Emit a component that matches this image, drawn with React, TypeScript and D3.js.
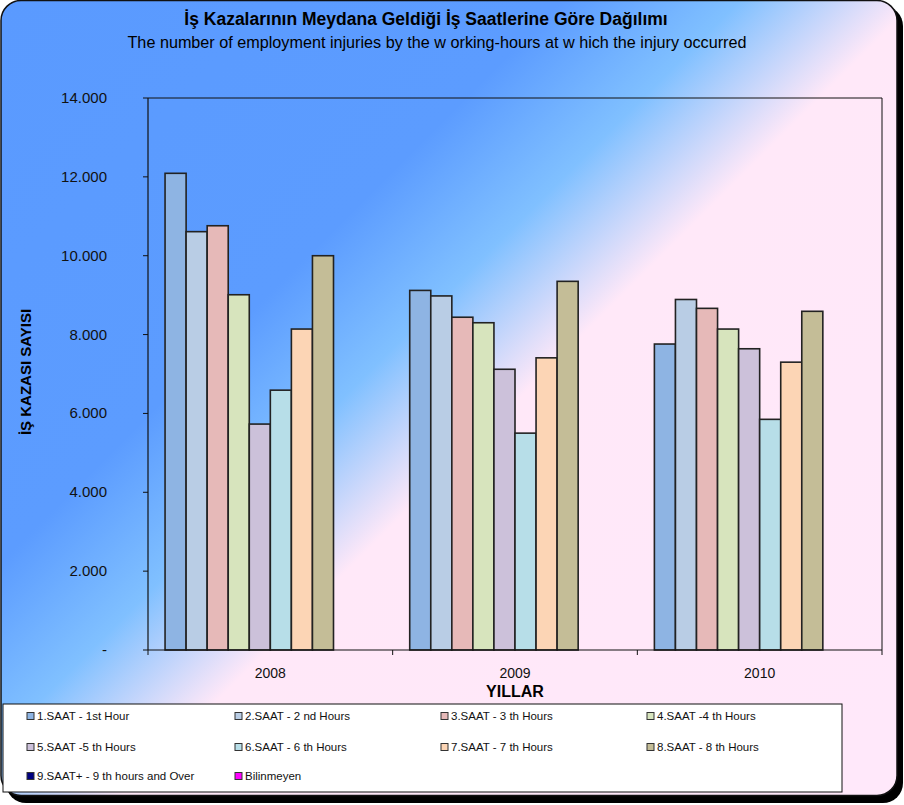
import React from "react";
import * as d3 from "d3";

const years = ["2008", "2009", "2010"];
const seriesNames = [
  "1.SAAT - 1st Hour",
  "2.SAAT - 2 nd Hours",
  "3.SAAT - 3 th Hours",
  "4.SAAT -4 th  Hours",
  "5.SAAT -5 th  Hours",
  "6.SAAT - 6 th  Hours",
  "7.SAAT - 7 th  Hours",
  "8.SAAT - 8 th Hours",
  "9.SAAT+ - 9 th hours and Over",
  "Bilinmeyen",
];
const seriesColors = [
  "#8eb4e3", "#b9cde5", "#e6b9b8", "#d7e4bd", "#ccc1da",
  "#b7dee8", "#fcd5b5", "#c4bd97", "#000080", "#ff00ff",
];
const s1 = [12090, 9120, 7760];
const s2 = [10610, 8980, 8890];
const s3 = [10760, 8440, 8665];
const s4 = [9010, 8300, 8140];
const s5 = [5730, 7120, 7640];
const s6 = [6590, 5500, 5850];
const s7 = [8140, 7410, 7300];
const s8 = [10000, 9350, 8590];
const s9 = [0, 0, 0];
const s10 = [0, 0, 0];
const seriesValues = [s1, s2, s3, s4, s5, s6, s7, s8, s9, s10];
const yTicks = [0, 2000, 4000, 6000, 8000, 10000, 12000, 14000];

const FONT = "'Liberation Sans', Arial, sans-serif";
const NARROW = "'Liberation Sans Narrow', 'Arial Narrow', 'Liberation Sans', sans-serif";

export default function App() {
  const left = 148, right = 882, top = 98, bottom = 650;
  const x0 = d3.scaleBand<string>().domain(years).range([left, right]).padding(0);
  const x1 = d3.scaleBand<string>().domain(seriesNames).range([0, x0.bandwidth()]).paddingInner(0).paddingOuter(0.81);
  const y = d3.scaleLinear().domain([0, 14000]).range([bottom, top]);
  const loc = d3.formatLocale({ decimal: ",", thousands: ".", grouping: [3], currency: ["", ""] });
  const fmt = (v: number) => (v === 0 ? "-" : loc.format(",d")(v));

  const legendCols = [27, 235, 441, 647];
  const legendRows = [716, 747, 776];

  return (
    <svg width={904} height={805} style={{ position: "absolute", left: 0, top: 0 }}>
      <defs>
        <linearGradient id="bg" gradientUnits="userSpaceOnUse" x1={0} y1={0} x2={805} y2={805}>
          <stop offset="0" stopColor="#5a9aff" />
          <stop offset="0.35" stopColor="#5c9cff" />
          <stop offset="0.46" stopColor="#80c0ff" />
          <stop offset="0.57" stopColor="#ffe8f8" />
          <stop offset="1" stopColor="#ffe8fa" />
        </linearGradient>
      </defs>
      <rect x={6} y={6} width={897} height={797} rx={20} fill="#000" />
      <rect x={1} y={0.5} width={896} height={795} rx={20} fill="url(#bg)" stroke="#111" strokeWidth={1.5} />

      <text x={426} y={25} textAnchor="middle" fontFamily={FONT} fontWeight="bold" fontSize={17.5}>
        İş Kazalarının Meydana Geldiği İş Saatlerine Göre Dağılımı
      </text>
      <text x={437} y={48} textAnchor="middle" fontFamily={FONT} fontSize={16.2}>
        The number of employment injuries by the w orking-hours at w hich the injury occurred
      </text>

      {/* plot border */}
      <line x1={left} x2={right} y1={top} y2={top} stroke="#111" strokeWidth={1} />
      <line x1={right} x2={right} y1={top} y2={bottom} stroke="#111" strokeWidth={1} />

      {/* bars */}
      {years.map((yr, yi) => (
        <g key={yr} transform={`translate(${x0(yr)},0)`}>
          {seriesNames.map((s, si) => {
            const v = seriesValues[si][yi];
            if (!v) return null;
            return (
              <rect
                key={s}
                x={x1(s)}
                y={y(v)}
                width={x1.bandwidth()}
                height={bottom - y(v)}
                fill={seriesColors[si]}
                stroke="#222"
                strokeWidth={1.6}
              />
            );
          })}
        </g>
      ))}

      {/* y axis */}
      <line x1={left} x2={left} y1={top} y2={bottom} stroke="#111" strokeWidth={1.2} />
      {yTicks.map((t) => (
        <g key={t}>
          <line x1={left - 5} x2={left} y1={y(t)} y2={y(t)} stroke="#111" />
          <text x={107} y={y(t) + 5} textAnchor="end" fontFamily={FONT} fontSize={15} fill="#111">
            {fmt(t)}
          </text>
        </g>
      ))}
      <text
        transform={`translate(31,${(top + bottom) / 2 - 2}) rotate(-90)`}
        textAnchor="middle"
        fontFamily={FONT}
        fontWeight="bold"
        fontSize={15}
      >
        İŞ KAZASI SAYISI
      </text>

      {/* x axis */}
      <line x1={left} x2={right} y1={bottom} y2={bottom} stroke="#111" strokeWidth={1.2} />
      {[...years.map((yr) => x0(yr) as number), right].map((tx, i) => (
        <line key={i} x1={tx} x2={tx} y1={bottom} y2={bottom + 5} stroke="#111" />
      ))}
      {years.map((yr) => (
        <text key={yr} x={(x0(yr) as number) + x0.bandwidth() / 2} y={678} textAnchor="middle" fontFamily={FONT} fontSize={14} fill="#111">
          {yr}
        </text>
      ))}
      <text x={515} y={697} textAnchor="middle" fontFamily={FONT} fontWeight="bold" fontSize={16}>
        YILLAR
      </text>

      {/* legend */}
      <rect x={3} y={704} width={839} height={88} fill="#fff" stroke="#111" strokeWidth={1} />
      {seriesNames.map((s, i) => {
        const cx = legendCols[i % 4];
        const cy = legendRows[Math.floor(i / 4)];
        return (
          <g key={s}>
            <rect x={cx} y={cy - 3.5} width={7} height={7} fill={seriesColors[i]} stroke="#333" strokeWidth={1} />
            <text x={cx + 10} y={cy + 4} fontFamily={NARROW} fontSize={11.5} fill="#111">
              {s}
            </text>
          </g>
        );
      })}
    </svg>
  );
}
